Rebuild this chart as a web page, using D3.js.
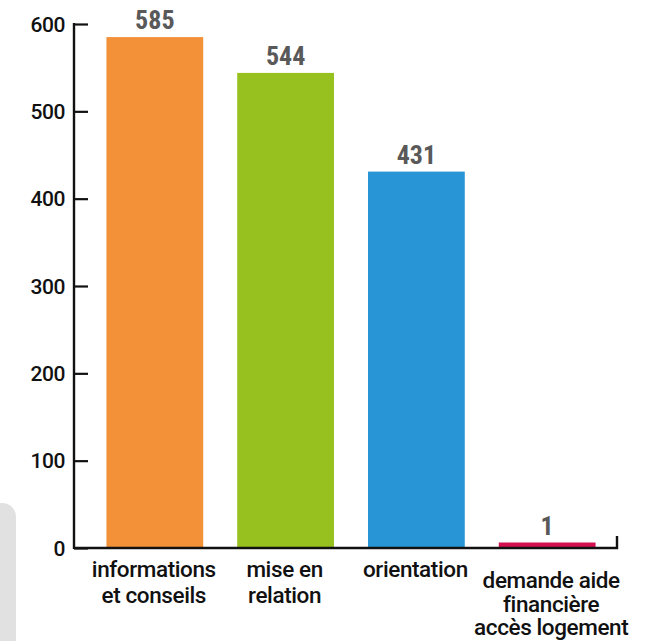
<!DOCTYPE html>
<html>
<head>
<meta charset="utf-8">
<script src="https://cdn.jsdelivr.net/npm/d3@7"></script>
<style>
  html, body { margin: 0; padding: 0; background: #fff; }
  svg { display: block; }
</style>
</head>
<body>
<div id="chart"></div>
<script>
// Demandes traitées, par type
const categories = ["informations et conseils", "mise en relation", "orientation", "demande aide financière accès logement"];
const labelLines = [
  ["informations", "et conseils"],
  ["mise en", "relation"],
  ["orientation"],
  ["demande aide", "financière", "accès logement"]
];
const values = [585, 544, 431, 1];
const barColors = ["#f29137", "#97c11f", "#2896d6", "#d4104f"];
const yTicks = [0, 100, 200, 300, 400, 500, 600];

const W = 671, H = 641;
const axisX = 74, axisEnd = 617;
const textFont = "Roboto, 'Liberation Sans', sans-serif";
const valueFont = "'Liberation Sans Narrow', 'Roboto Condensed', 'DejaVu Sans Condensed', Roboto, sans-serif";

const svg = d3.select("#chart").append("svg")
  .attr("width", W).attr("height", H);

// decorative grey panel edge at lower left
svg.append("path")
  .attr("d", "M-20,641 L-20,503 L2,503 A14,14 0 0 1 16,517 L16,641 Z")
  .attr("fill", "#e1e1e1");

const x = d3.scaleBand()
  .domain(categories)
  .range([axisX, 628])
  .paddingInner(0.26)
  .paddingOuter(0.248);

const y = d3.scaleLinear()
  .domain([0, 600])
  .range([548, 24]);

// bars (a tiny value still gets a visible sliver)
const minBar = 5.5;
svg.append("g").selectAll("rect")
  .data(values)
  .join("rect")
  .attr("x", (d, i) => x(categories[i]))
  .attr("width", x.bandwidth())
  .attr("y", d => Math.min(y(d), y(0) - minBar))
  .attr("height", d => Math.max(y(0) - y(d), minBar))
  .attr("fill", (d, i) => barColors[i]);

// y axis with inward ticks
const yAxis = d3.axisRight(y)
  .tickValues(yTicks)
  .tickSize(14)
  .tickFormat("");
const gy = svg.append("g")
  .attr("transform", `translate(${axisX},0)`)
  .call(yAxis);
gy.select(".domain").remove();
gy.selectAll(".tick line").attr("stroke", "#111").attr("stroke-width", 2.2);

svg.append("line")
  .attr("x1", axisX).attr("x2", axisX)
  .attr("y1", y(600) - 1).attr("y2", y(0) + 1)
  .attr("stroke", "#111").attr("stroke-width", 2.4);

// baseline with its closing tick on the right
svg.append("path")
  .attr("d", `M${axisX},${y(0)} H${axisEnd} V${y(0) - 12}`)
  .attr("fill", "none")
  .attr("stroke", "#111")
  .attr("stroke-width", 2.4);

// tick labels
svg.append("g").selectAll("text")
  .data(yTicks)
  .join("text")
  .attr("x", 65)
  .attr("y", d => y(d) + 7.5)
  .attr("text-anchor", "end")
  .attr("font-family", textFont)
  .attr("font-size", 21)
  .attr("font-weight", 500)
  .attr("fill", "#111")
  .attr("letter-spacing", -0.4)
  .text(d => d);

// value labels above bars
svg.append("g").selectAll("text")
  .data(values)
  .join("text")
  .attr("x", (d, i) => x(categories[i]) + x.bandwidth() / 2)
  .attr("y", d => Math.min(y(d), y(0) - minBar) - 8)
  .attr("text-anchor", "middle")
  .attr("font-family", valueFont)
  .attr("font-size", 26)
  .attr("font-weight", 700)
  .attr("fill", "#595959")
  .text(d => d);

// category labels
const catG = svg.append("g");
labelLines.forEach((lines, i) => {
  const cx = x(categories[i]) + x.bandwidth() / 2;
  const long = lines.length > 2;
  const lh = long ? 23.5 : 26;
  const top = long ? 588 : 577;
  const t = catG.append("text")
    .attr("text-anchor", "middle")
    .attr("font-family", textFont)
    .attr("font-size", 22.5)
    .attr("font-weight", 500)
    .attr("fill", "#111")
    .attr("letter-spacing", -0.4);
  lines.forEach((line, j) => {
    t.append("tspan")
      .attr("x", cx + (long ? 4 : -1))
      .attr("y", top + j * lh)
      .text(line);
  });
});
</script>
</body>
</html>
